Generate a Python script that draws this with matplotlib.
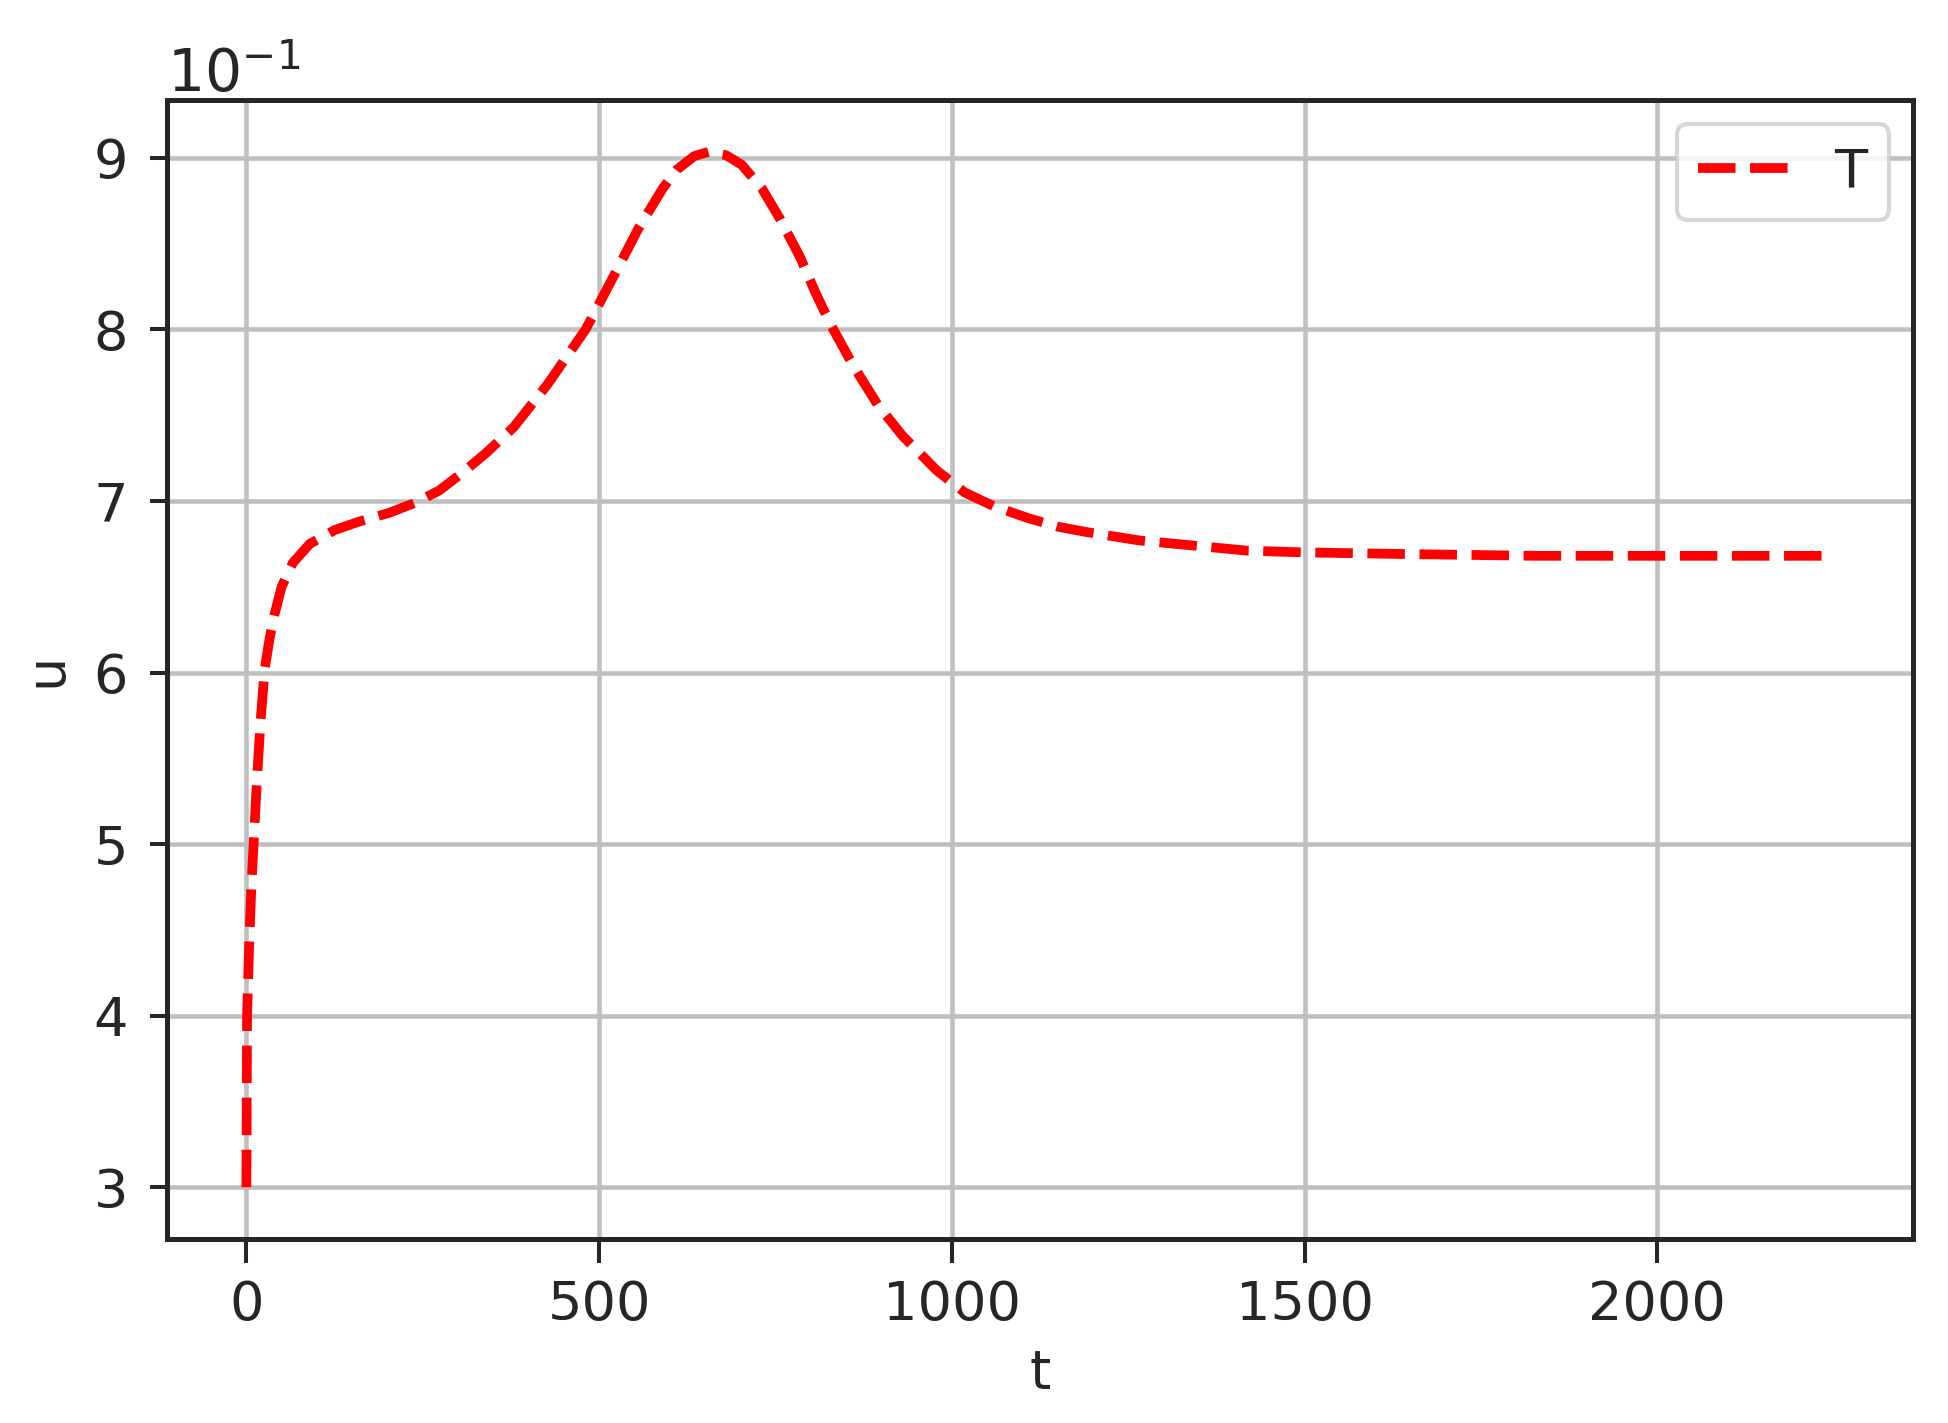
import matplotlib
matplotlib.use("Agg")
import matplotlib.pyplot as plt
from matplotlib.ticker import FuncFormatter

# data
t = [0, 1, 4, 7, 11, 15, 20, 26, 33, 40, 50, 66, 90, 125, 160, 202, 240, 273,
     305, 340, 379, 427, 481, 527, 556, 590, 610, 635, 656, 680, 702, 731, 757,
     785, 806, 828, 860, 895, 930, 978, 1018, 1059, 1108, 1150, 1189, 1265,
     1342, 1419, 1500, 1649, 1829, 2000, 2250]
u = [0.300, 0.400, 0.442, 0.474, 0.506, 0.537, 0.571, 0.602, 0.620, 0.634,
     0.650, 0.664, 0.675, 0.683, 0.688, 0.693, 0.699, 0.706,
     0.716, 0.728, 0.743, 0.768, 0.800, 0.836, 0.859, 0.882, 0.893, 0.901,
     0.9035, 0.9015, 0.896, 0.882, 0.864, 0.842, 0.822, 0.803, 0.779, 0.756,
     0.738, 0.718, 0.705, 0.697, 0.690, 0.685, 0.682, 0.677, 0.674, 0.671,
     0.670, 0.669, 0.668, 0.668, 0.668]
series_label = "T"
x_label = "t"
y_label = "u"
x_ticks = [0, 500, 1000, 1500, 2000]
y_ticks = [0.3, 0.4, 0.5, 0.6, 0.7, 0.8, 0.9]

plt.rcParams['font.family'] = ['DejaVu Sans']
plt.rcParams['mathtext.fontset'] = 'dejavusans'
plt.rcParams['lines.scale_dashes'] = False

FS = 39
fig = plt.figure(figsize=(19.49, 14.23), dpi=100)
ax = fig.add_axes([167/1949, 1 - 1239/1423, (1913-167)/1949, (1239-100)/1423])

ax.plot(t, u, color='red', linestyle='--', linewidth=7, dashes=(27, 10.5),
        label=series_label, zorder=3)

ax.set_xticks(x_ticks)
ax.set_yticks(y_ticks)
ax.yaxis.set_major_formatter(FuncFormatter(lambda v, p: f"{v*10:.0f}"))
ax.xaxis.set_major_formatter(FuncFormatter(lambda v, p: f"{v:.0f}"))
ax.margins(x=0.05, y=0.05)

ax.grid(True, color='#bfbfbf', linewidth=3.3, zorder=0)
ax.set_axisbelow(True)
for s in ax.spines.values():
    s.set_linewidth(3.6)
    s.set_color('#262626')

ax.tick_params(axis='x', length=17, width=2.9, pad=12, labelsize=FS, colors='#262626')
ax.tick_params(axis='y', length=12, width=2.9, pad=16, labelsize=FS, colors='#262626')

ax.set_xlabel(x_label, fontsize=FS, color='#262626')
ax.set_ylabel(y_label, fontsize=FS, color='#262626')
ax.xaxis.set_label_coords(0.5, -0.095)
ax.yaxis.set_label_coords(-0.054, 0.5)

ax.text(0.0, 1.007, r"$10^{-1}$", transform=ax.transAxes, ha='left',
        va='baseline', fontsize=42, color='#262626')

leg = ax.legend(loc='upper right', fontsize=FS, handlelength=1.7,
                borderaxespad=0.45, borderpad=0.4, handletextpad=0.8,
                fancybox=True, framealpha=0.8)
leg.get_frame().set_linewidth(3.0)
leg.get_frame().set_edgecolor('#cccccc')
for txt in leg.get_texts():
    txt.set_color('#262626')

fig.savefig("out.png", dpi=100)
